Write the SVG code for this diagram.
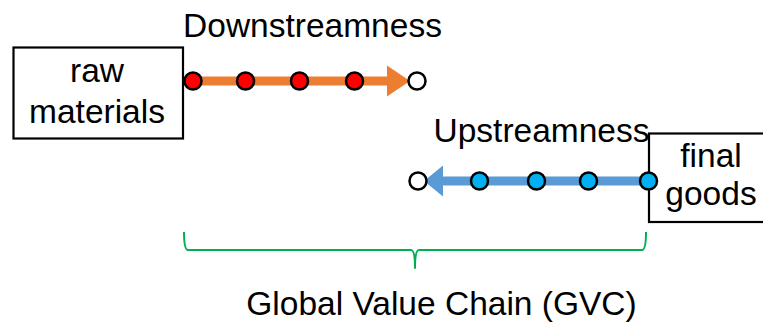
<svg xmlns="http://www.w3.org/2000/svg" width="763" height="322" viewBox="0 0 763 322">
  <style>
    text { font-family: "Liberation Sans", Arial, sans-serif; font-size: 33.5px; fill: #000; text-anchor: middle; }
    .box { fill: #fff; stroke: #000; stroke-width: 2.2; }
    .dot { stroke: #000; stroke-width: 2.5; }
    .red { fill: #ff0000; }
    .cyan { fill: #00b0f0; }
    .open { fill: #fff; }
    .brace { fill: none; stroke: #00b050; stroke-width: 2; stroke-linejoin: round; }
  </style>

  <!-- flow connectors -->
  <g id="connectors">
    <line x1="193" y1="81" x2="390" y2="81" stroke="#ed7d31" stroke-width="9"/>
    <polygon points="387,65.5 410,81 387,96.5" fill="#ed7d31"/>
    <line x1="440" y1="181" x2="649" y2="181" stroke="#5b9bd5" stroke-width="9"/>
    <polygon points="443,165.5 424,181 443,196.5" fill="#5b9bd5"/>
  </g>

  <g id="downstream-label">
    <text x="312.5" y="37">Downstreamness</text>
  </g>

  <g id="upstream-label">
    <text x="541.5" y="142">Upstreamness</text>
  </g>

  <g id="raw-materials">
    <rect class="box" x="13.5" y="47.5" width="169.5" height="91"/>
    <text x="97" y="82">raw</text>
    <text x="97" y="123">materials</text>
  </g>

  <g id="final-goods">
    <rect class="box" x="649" y="133.5" width="126" height="88.5"/>
    <text x="711" y="167">final</text>
    <text x="711" y="205">goods</text>
  </g>

  <!-- stages along the chain -->
  <g id="downstream-stages">
    <circle class="dot red" cx="193" cy="81" r="8.5"/>
    <circle class="dot red" cx="245.5" cy="81" r="8.5"/>
    <circle class="dot red" cx="299.5" cy="81" r="8.5"/>
    <circle class="dot red" cx="354.5" cy="81" r="8.5"/>
    <circle class="dot open" cx="417" cy="81" r="8.5"/>
  </g>

  <g id="upstream-stages">
    <circle class="dot open" cx="418" cy="181" r="8.5"/>
    <circle class="dot cyan" cx="479.5" cy="181" r="8.5"/>
    <circle class="dot cyan" cx="536.5" cy="181" r="8.5"/>
    <circle class="dot cyan" cx="588.5" cy="181" r="8.5"/>
    <circle class="dot cyan" cx="648.5" cy="181" r="8.5"/>
  </g>

  <g id="gvc-brace">
    <path class="brace" d="M184,232 Q184,250 188,250 L411,250 Q415,250 415,268 Q415,250 419,250 L642,250 Q646,250 646,232"/>
    <text x="441.5" y="315">Global Value Chain (GVC)</text>
  </g>
</svg>
